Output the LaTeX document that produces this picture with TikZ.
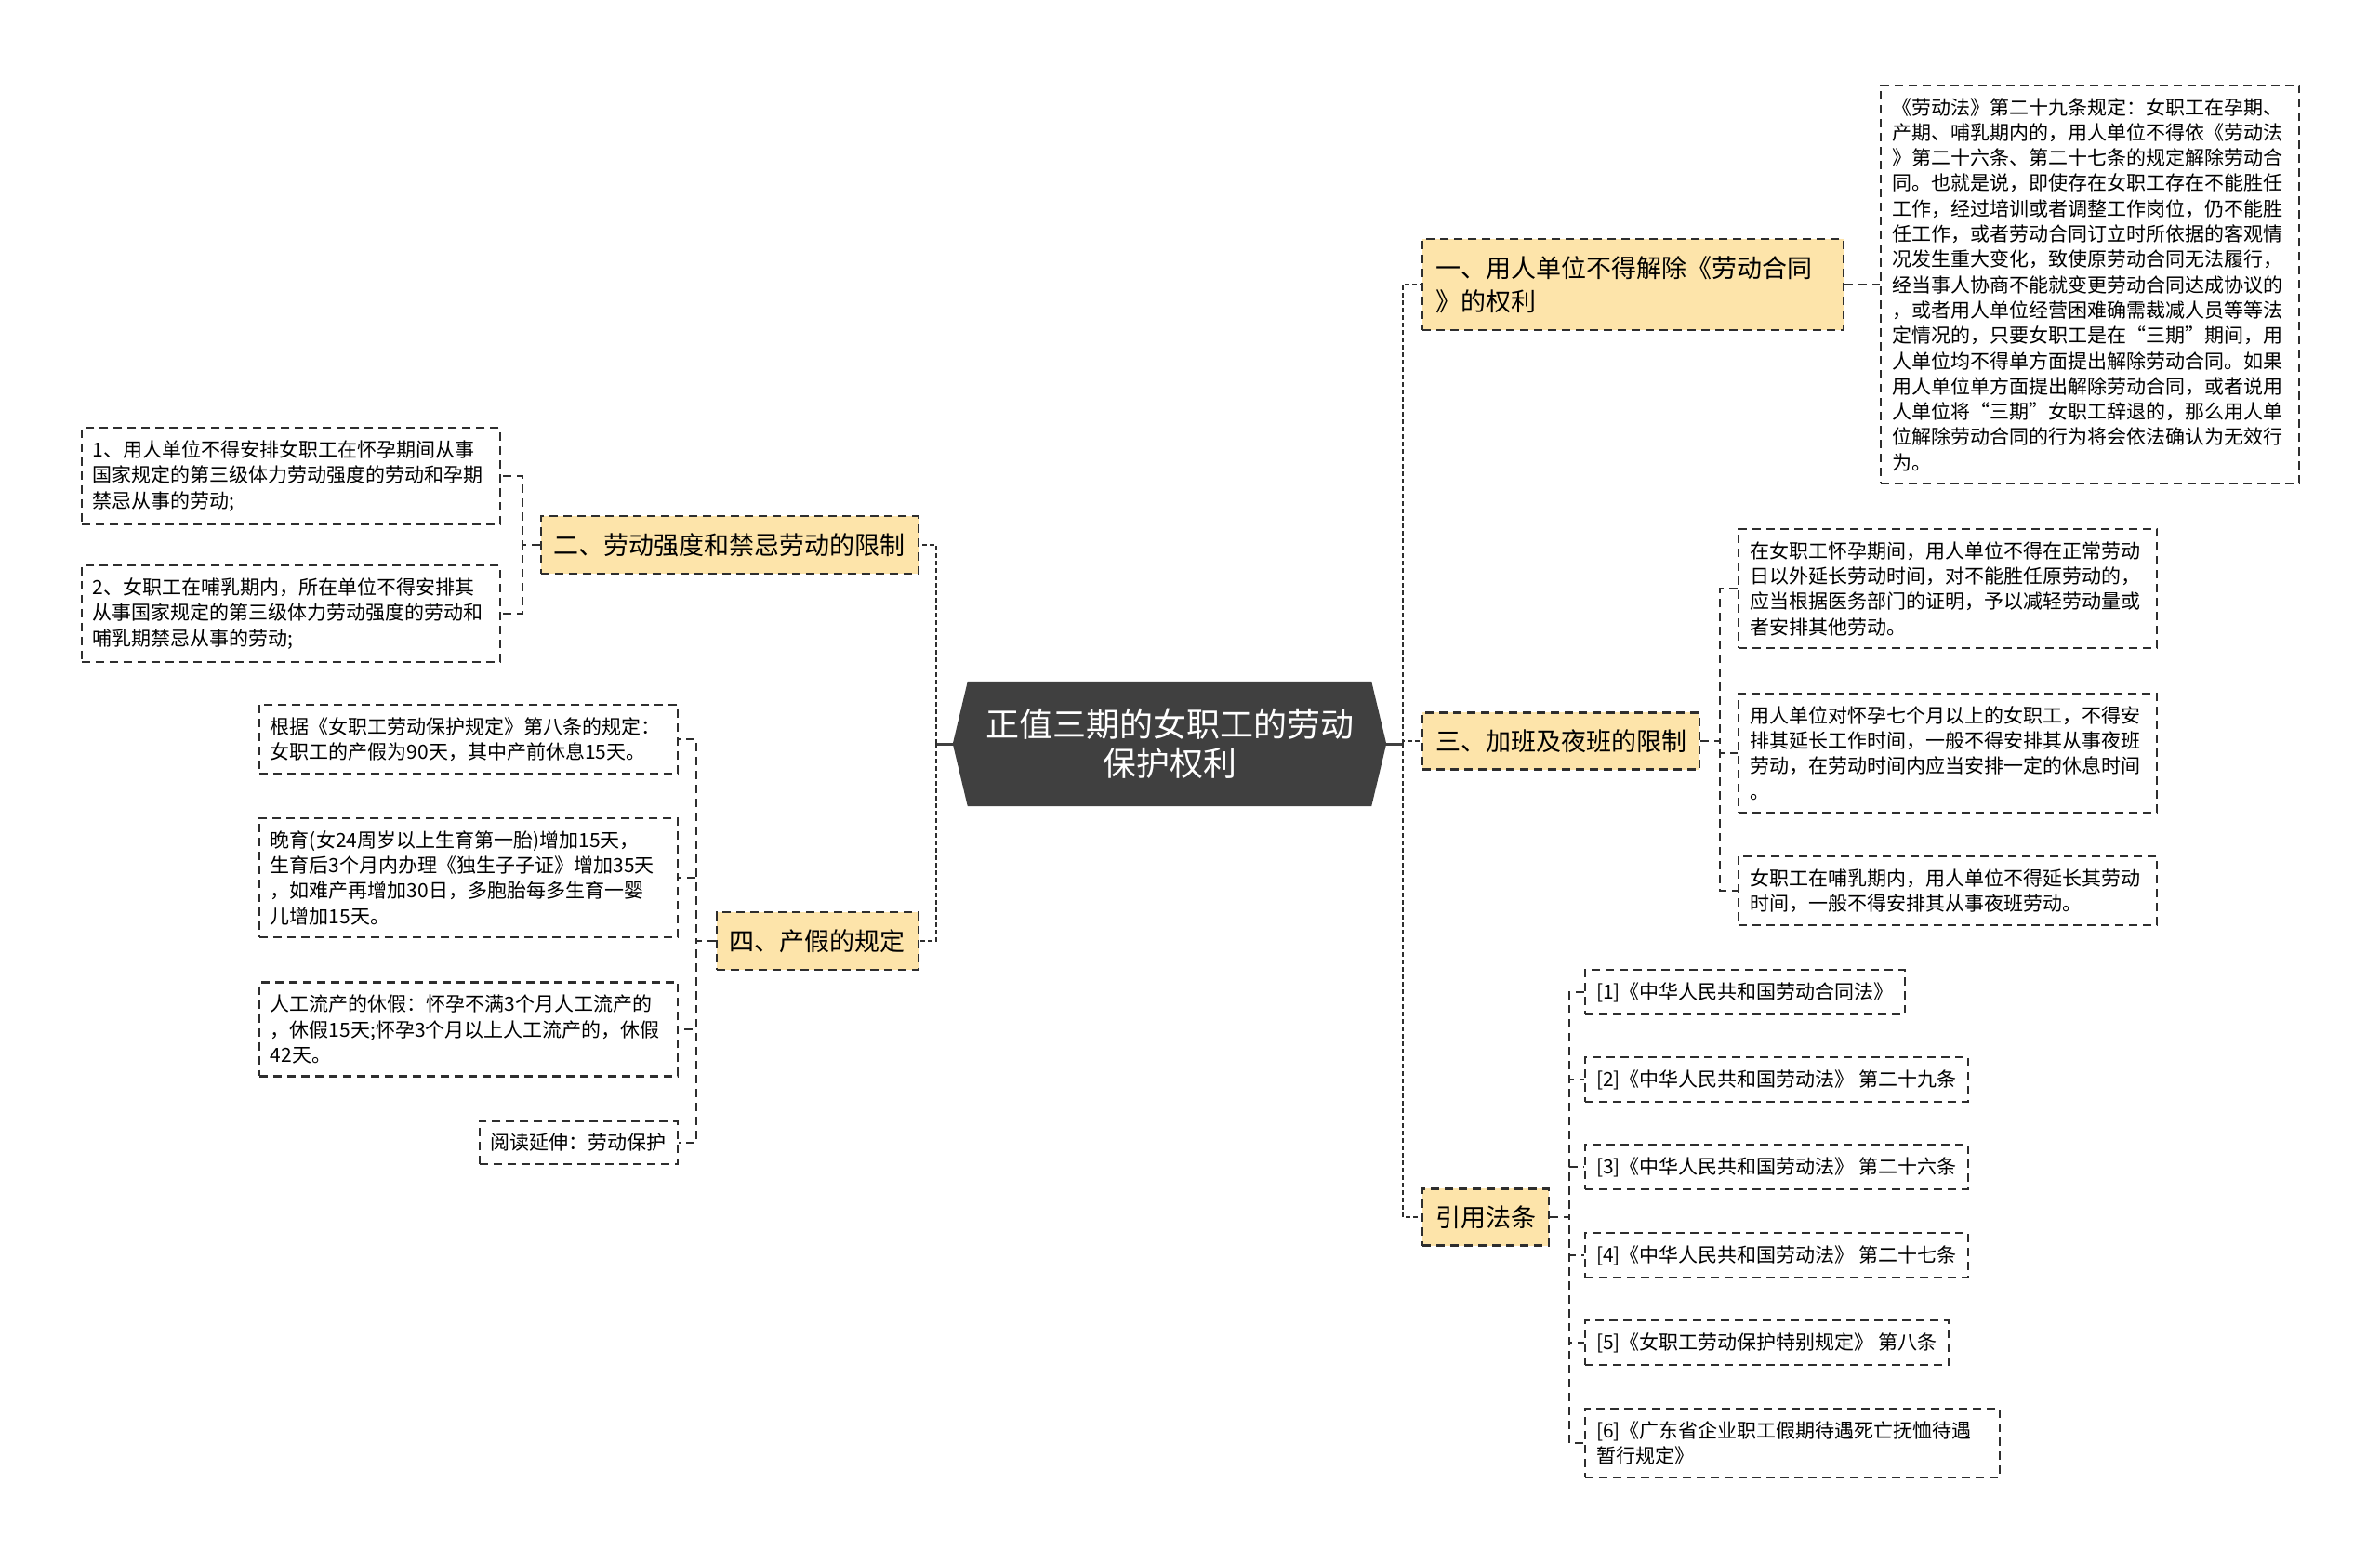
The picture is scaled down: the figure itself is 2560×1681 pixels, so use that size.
\documentclass[tikz,border=0pt]{standalone}
\usepackage{fontspec}
\usepackage{xcolor}
\usepackage{tikz}
\usetikzlibrary{positioning,calc,backgrounds}
\newfontfamily\cjkfont{Noto Sans CJK SC}
\definecolor{Root}{HTML}{404040}
\definecolor{Topic}{HTML}{FDE4AA}
\definecolor{Edge}{HTML}{2E2E2E}

\begin{document}
\begin{tikzpicture}[x=1pt,y=-1pt,
  rootbox/.style={text=white,align=center,inner sep=0pt,minimum width=466pt,minimum height=134pt,
    font=\cjkfont\fontsize{36pt}{42pt}\selectfont},
  topic/.style={draw=Edge,line width=2.1pt,dash pattern=on 9pt off 6pt,fill=Topic,align=left,
    inner xsep=14pt,inner ysep=18pt,font=\cjkfont\fontsize{27pt}{36pt}\selectfont},
  leaf/.style={draw=Edge,line width=2.1pt,dash pattern=on 9pt off 6pt,fill=white,align=left,
    inner xsep=12pt,inner ysep=13.5pt,font=\cjkfont\fontsize{21pt}{27.3pt}\selectfont},
  wide/.style={leaf,text width=426pt},
  link/.style={draw=Edge,line width=2.1pt,dash pattern=on 9pt off 6pt},
  trunk/.style={draw=Edge,line width=2.4pt,dash pattern=on 5pt off 3pt},
  stem/.style={draw=Root,line width=3pt}]
  \useasboundingbox (0,0) rectangle (2560,1681);

  % root
  \node[rootbox] (root) at (1258,800) {正值三期的女职工的劳动\\保护权利};
  \begin{scope}[on background layer]
    \fill[Root] ($(root.north west)+(16,0)$) -- ($(root.north east)+(-16,0)$) -- (root.east)
      -- ($(root.south east)+(-16,0)$) -- ($(root.south west)+(16,0)$) -- (root.west) -- cycle;
  \end{scope}

  % main topics
  \node[topic,anchor=west,text width=425pt] (b1) at (1529,306) {一、用人单位不得解除《劳动合同\\》的权利};
  \node[topic,anchor=west] (b3) at (1529,797) {三、加班及夜班的限制};
  \node[topic,anchor=west] (b5) at (1529,1309) {引用法条};
  \node[topic,anchor=east] (b2) at (989,586) {二、劳动强度和禁忌劳动的限制};
  \node[topic,anchor=east] (b4) at (989,1012) {四、产假的规定};

  % right leaves
  \node[wide,anchor=west] (c11) at (2022,306) {《劳动法》第二十九条规定：女职工在孕期、\\
    产期、哺乳期内的，用人单位不得依《劳动法\\》第二十六条、第二十七条的规定解除劳动合\\
    同。也就是说，即使存在女职工存在不能胜任\\工作，经过培训或者调整工作岗位，仍不能胜\\
    任工作，或者劳动合同订立时所依据的客观情\\况发生重大变化，致使原劳动合同无法履行，\\
    经当事人协商不能就变更劳动合同达成协议的\\，或者用人单位经营困难确需裁减人员等等法\\
    定情况的，只要女职工是在“三期”期间，用\\人单位均不得单方面提出解除劳动合同。如果\\
    用人单位单方面提出解除劳动合同，或者说用\\人单位将“三期”女职工辞退的，那么用人单\\
    位解除劳动合同的行为将会依法确认为无效行\\为。};
  \node[wide,anchor=west] (c31) at (1869,633) {在女职工怀孕期间，用人单位不得在正常劳动\\
    日以外延长劳动时间，对不能胜任原劳动的，\\应当根据医务部门的证明，予以减轻劳动量或\\者安排其他劳动。};
  \node[wide,anchor=west] (c32) at (1869,810) {用人单位对怀孕七个月以上的女职工，不得安\\
    排其延长工作时间，一般不得安排其从事夜班\\劳动，在劳动时间内应当安排一定的休息时间\\。};
  \node[wide,anchor=west] (c33) at (1869,958) {女职工在哺乳期内，用人单位不得延长其劳动\\
    时间，一般不得安排其从事夜班劳动。};
  \node[leaf,anchor=west] (r1) at (1704,1067) {[1]《中华人民共和国劳动合同法》};
  \node[leaf,anchor=west] (r2) at (1704,1161) {[2]《中华人民共和国劳动法》 第二十九条};
  \node[leaf,anchor=west] (r3) at (1704,1255) {[3]《中华人民共和国劳动法》 第二十六条};
  \node[leaf,anchor=west] (r4) at (1704,1350) {[4]《中华人民共和国劳动法》 第二十七条};
  \node[leaf,anchor=west] (r5) at (1704,1444) {[5]《女职工劳动保护特别规定》 第八条};
  \node[leaf,anchor=west,text width=422pt] (r6) at (1704,1552) {[6]《广东省企业职工假期待遇死亡抚恤待遇\\暂行规定》};

  % left leaves
  \node[wide,anchor=east] (c21) at (539,512) {1、用人单位不得安排女职工在怀孕期间从事\\
    国家规定的第三级体力劳动强度的劳动和孕期\\禁忌从事的劳动;};
  \node[wide,anchor=east] (c22) at (539,660) {2、女职工在哺乳期内，所在单位不得安排其\\
    从事国家规定的第三级体力劳动强度的劳动和\\哺乳期禁忌从事的劳动;};
  \node[wide,anchor=east] (c41) at (730,795) {根据《女职工劳动保护规定》第八条的规定：\\
    女职工的产假为90天，其中产前休息15天。};
  \node[wide,anchor=east] (c42) at (730,944) {晚育(女24周岁以上生育第一胎)增加15天，\\
    生育后3个月内办理《独生子子证》增加35天\\，如难产再增加30日，多胞胎每多生育一婴\\儿增加15天。};
  \node[wide,anchor=east] (c43) at (730,1107) {人工流产的休假：怀孕不满3个月人工流产的\\
    ，休假15天;怀孕3个月以上人工流产的，休假\\42天。};
  \node[leaf,anchor=east] (c44) at (730,1229) {阅读延伸：劳动保护};

  % connectors
  \draw[stem] (root.east) -- ++(18,0) coordinate (rbus);
  \draw[stem] (root.west) -- ++(-18,0) coordinate (lbus);
  \foreach \t in {b1,b3,b5} \draw[trunk] (rbus) |- (\t.west);
  \foreach \t in {b2,b4} \draw[trunk] (lbus) |- (\t.east);
  \draw[link] (b1.east) -- (c11.west);
  \foreach \c in {c31,c32,c33} \draw[link] (b3.east) -- ++(21,0) |- (\c.west);
  \foreach \c in {r1,r2,r3,r4,r5,r6} \draw[link] (b5.east) -- ++(21,0) |- (\c.west);
  \foreach \c in {c21,c22} \draw[link] (b2.west) -- ++(-19,0) |- (\c.east);
  \foreach \c in {c41,c42,c43,c44} \draw[link] (b4.west) -- ++(-21,0) |- (\c.east);
\end{tikzpicture}
\end{document}
